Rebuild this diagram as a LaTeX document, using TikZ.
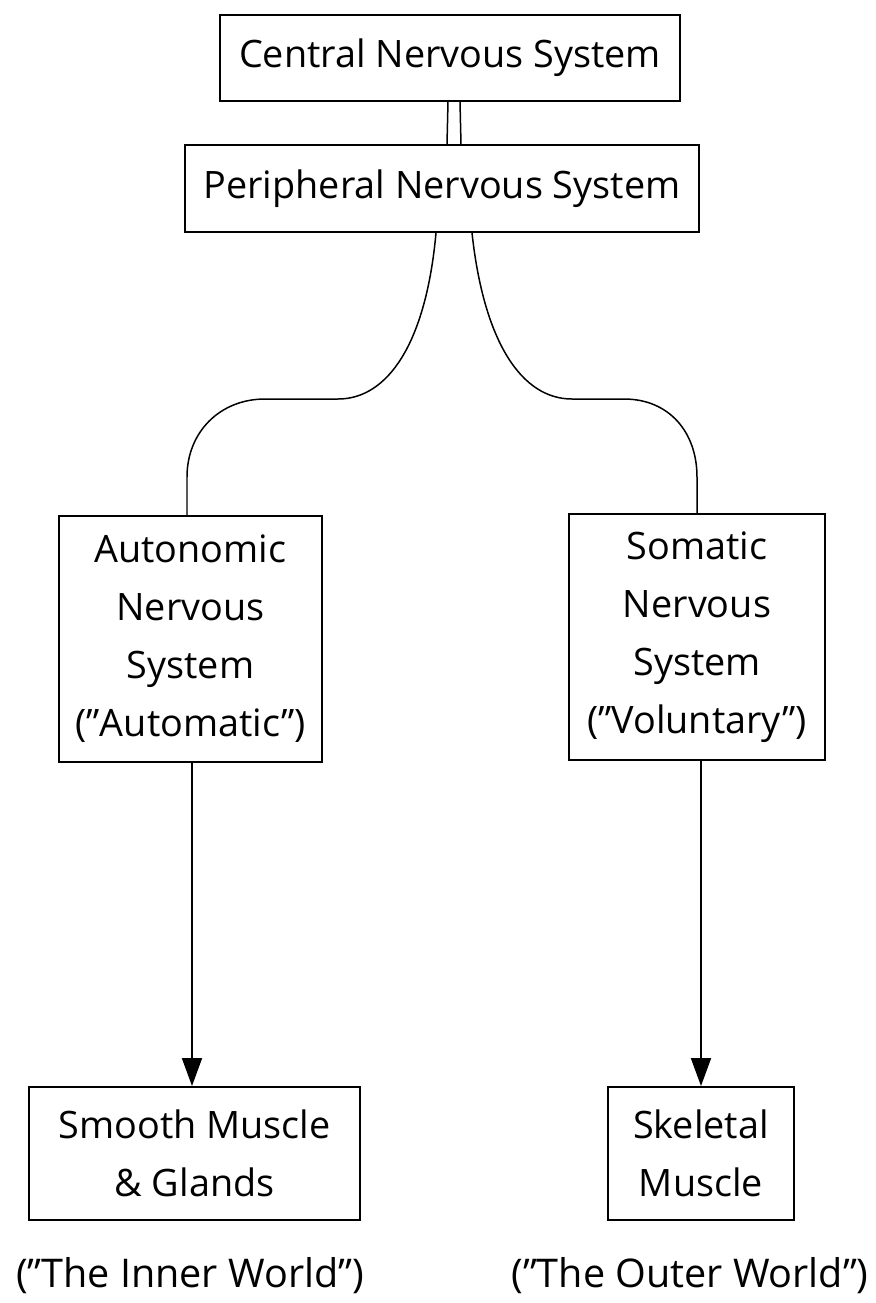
\documentclass[tikz,border=0pt]{standalone}
\usepackage{fontspec}
\setmainfont{Open Sans}
\usetikzlibrary{arrows.meta,calc}

\tikzset{
    nbox/.style={draw, line width=1.1pt, inner sep=0pt, align=center,
        font=\fontsize{21.5}{33}\selectfont},
    link/.style={line width=0.85pt},
    down/.style={line width=1pt, -{Triangle[length=0.56cm, width=0.4cm]}}
}

\begin{document}
\begin{tikzpicture}[x=0.02cm, y=-0.02cm]
    \useasboundingbox (0, 0) rectangle (876, 1303);

    % top of the tree
    \node[nbox, minimum width=9.2cm, minimum height=1.72cm] (cns) at (450, 58) {Central Nervous System};
    \node[nbox, minimum width=10.28cm, minimum height=1.74cm] (pns) at (442, 188.5) {Peripheral Nervous System};

        \draw[link] ($(cns.south)+(-2, 0)$) -- ($(pns.north)+(5, 0)$);
        \draw[link] ($(cns.south)+(10, 0)$) -- ($(pns.north)+(19, 0)$);

    % the two branches
    \node[nbox, minimum width=5.26cm, minimum height=4.92cm] (ans) at (190.5, 639) {Autonomic\\Nervous\\System\\("Automatic")};
    \node[nbox, minimum width=5.12cm, minimum height=4.92cm] (sns) at (697, 637) {Somatic\\Nervous\\System\\("Voluntary")};

        \coordinate (lh) at (338, 399);
        \coordinate (la) at (265, 399);
        \coordinate (lv) at (187, 477);
        \coordinate (rh) at (572, 399);
        \coordinate (ra) at (624, 399);
        \coordinate (rv) at (697, 477);

        \draw[link] ($(pns.south)+(-6, 0)$) .. controls +(-10, 110) and +(50, 0) .. (lh)
            -- (la) .. controls +(-45, 0) and +(0, -45) .. (lv) -- (ans.north -| lv);
        \draw[link] ($(pns.south)+(30, 0)$) .. controls +(12, 110) and +(-50, 0) .. (rh)
            -- (ra) .. controls +(45, 0) and +(0, -45) .. (rv) -- (sns.north -| rv);

    % targets
    \node[nbox, minimum width=6.62cm, minimum height=2.66cm] (smooth) at (194.5, 1153.5) {Smooth Muscle\\\& Glands};
    \node[nbox, minimum width=3.72cm, minimum height=2.66cm] (skeletal) at (701, 1153.5) {Skeletal\\Muscle};

        \draw[down] (ans.south -| 192, 0) -- (smooth.north -| 192, 0);
        \draw[down] (sns.south -| 701, 0) -- (skeletal.north -| 701, 0);

    \node[font=\fontsize{22.5}{33}\selectfont] (inner) at (190, 1276) {("The Inner World")};
    \node[font=\fontsize{22.5}{33}\selectfont] (outer) at (690, 1276) {("The Outer World")};

\end{tikzpicture}
\end{document}
